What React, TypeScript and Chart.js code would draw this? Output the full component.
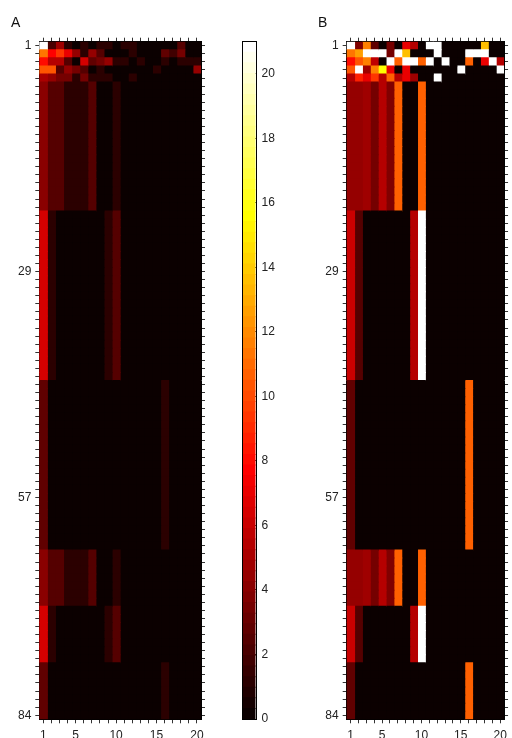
import React, { useEffect, useRef } from 'react';
import { Chart, registerables } from 'chart.js';

Chart.register(...registerables);
Chart.defaults.font.family = '"Liberation Sans", Arial, sans-serif';
Chart.defaults.font.size = 12;
Chart.defaults.color = '#222';

const VMAX = 21;
const rowLabels = Array.from({ length: 84 }, (_, i) => String(i + 1));
const colTicks = Array.from({ length: 20 }, (_, i) => i + 1);
const yLabelShown = ['1', '29', '57', '84'];
const xLabelShown = [1, 5, 10, 15, 20];
const cbTicks = [0, 2, 4, 6, 8, 10, 12, 14, 16, 18, 20];

// Panel A: first five rows, then repeated row blocks
const aTop = [
  [21, 2.0, 4.8, 1.3, 0, 1.3, 0, 1.3, 1.3, 0, 1.3, 1.3, 0, 0, 0, 0, 0, 2.6, 0, 0],
  [11.2, 7.7, 9.2, 7.2, 4.3, 1.3, 4.3, 2.3, 0, 0, 0, 1.3, 0, 0, 0, 2.8, 1.8, 3.3, 0, 0],
  [8.2, 5.3, 5.3, 2.3, 0, 6.3, 2.8, 3.3, 4.3, 1.3, 1.3, 0, 1.3, 0, 0, 1.3, 0, 1.3, 1.3, 1.3],
  [10.2, 10.2, 2.3, 4.3, 3.3, 2.3, 0, 1.3, 0, 0, 0, 0, 0, 0, 1.3, 0, 0, 0, 0, 4.3],
  [5.0, 4.3, 3.3, 3.3, 1.3, 3.3, 1.3, 1.3, 1.3, 0, 0, 1.3, 0, 0, 0, 0, 0, 0, 0, 0],
];
const aBlockP = [4.0, 2.3, 2.3, 1.3, 1.3, 1.3, 2.3, 0, 0, 1.3, 0, 0, 0, 0, 0, 0, 0, 0, 0, 0];
const aBlockQ = [6.3, 1.3, 0, 0, 0, 0, 0, 0, 1.3, 2.3, 0, 0, 0, 0, 0, 0, 0, 0, 0, 0];
const aBlockR = [2.8, 0, 0, 0, 0, 0, 0, 0, 0, 0, 0, 0, 0, 0, 0, 1.3, 0, 0, 0, 0];

// Panel B
const bTop = [
  [21, 3.8, 11.6, 2.8, 0, 3.3, 0, 7.2, 5.3, 0, 21, 21, 0, 0, 0, 0, 0, 13.6, 0, 0],
  [11.2, 12.6, 21, 21, 21, 3.3, 21, 13.6, 0, 0, 0, 21, 0, 0, 0, 21, 21, 21, 0, 0],
  [8.2, 10.2, 11.6, 5.8, 0, 21, 10.7, 21, 21, 10.7, 21, 0, 21, 0, 0, 10.7, 0, 7.2, 21, 5.3],
  [10.2, 21, 4.8, 11.6, 15.6, 7.2, 0, 7.2, 0, 0, 0, 0, 0, 0, 21, 0, 0, 0, 0, 21],
  [5.3, 8.7, 7.2, 9.2, 5.3, 10.7, 5.3, 7.2, 4.8, 0, 0, 21, 0, 0, 0, 0, 0, 0, 0, 0],
];
const bBlockP = [4.3, 4.3, 4.8, 3.3, 5.3, 3.8, 10.8, 0, 0, 10.8, 0, 0, 0, 0, 0, 0, 0, 0, 0, 0];
const bBlockQ = [6.2, 2.3, 0, 0, 0, 0, 0, 0, 5.3, 21, 0, 0, 0, 0, 0, 0, 0, 0, 0, 0];
const bBlockR = [2.8, 0, 0, 0, 0, 0, 0, 0, 0, 0, 0, 0, 0, 0, 0, 10.8, 0, 0, 0, 0];

// which block fills each row range (1-based, inclusive)
const blockLayout: [string, number, number][] = [
  ['P', 6, 21], ['Q', 22, 42], ['R', 43, 63], ['P', 64, 70], ['Q', 71, 77], ['R', 78, 84],
];

function buildMatrix(top: number[][], blocks: Record<string, number[]>) {
  const rows: number[][] = [...top];
  blockLayout.forEach(([k, from, to]) => {
    for (let r = from; r <= to; r++) rows.push(blocks[k]);
  });
  return rows;
}

const matA = buildMatrix(aTop, { P: aBlockP, Q: aBlockQ, R: aBlockR });
const matB = buildMatrix(bTop, { P: bBlockP, Q: bBlockQ, R: bBlockR });

const clamp = (x: number) => Math.max(0, Math.min(1, x));
function hotIndex(i: number) {
  const r = clamp((i + 1) / 24), g = clamp((i + 1 - 24) / 24), b = clamp((i + 1 - 48) / 16);
  return `rgb(${Math.round(r * 255)},${Math.round(g * 255)},${Math.round(b * 255)})`;
}
function hot(v: number) {
  const i = Math.max(0, Math.min(63, Math.floor((v / VMAX) * 64)));
  return hotIndex(i);
}

const panelLetter = (txt: string, x: number) => ({
  id: 'letter' + txt,
  afterDraw(chart: any) {
    const ctx = chart.ctx;
    ctx.save();
    ctx.font = '14px "Liberation Sans", Arial, sans-serif';
    ctx.fillStyle = '#111';
    ctx.textBaseline = 'alphabetic';
    ctx.textAlign = 'left';
    ctx.fillText(txt, x, 27);
    ctx.restore();
  },
});

const areaBackground = {
  id: 'areaBackground',
  beforeDatasetsDraw(chart: any) {
    const { left, top, right, bottom } = chart.chartArea;
    const ctx = chart.ctx;
    ctx.save();
    ctx.fillStyle = hot(0);
    ctx.fillRect(left, top, right - left, bottom - top);
    ctx.restore();
  },
};

function heatConfig(mat: number[][], W: number, left: number, right: number, letter: string, letterX: number): any {
  const TOP = 41.7, BOTTOM = 719.3, H = 738;
  const tickGrid = { drawOnChartArea: false, drawTicks: true, tickLength: 4, color: '#333', offset: false };
  const border = { display: true, color: '#000', width: 1 };
  const setXTicks = (s: any) => { s.ticks = colTicks.map((v) => ({ value: v })); };
  return {
    type: 'bar',
    data: {
      labels: rowLabels,
      datasets: colTicks.map((c) => ({
        data: rowLabels.map(() => [c - 0.5, c + 0.5]),
        backgroundColor: mat.map((row) => hot(row[c - 1])),
        borderWidth: 0,
        inflateAmount: 0.5,
        grouped: false,
        barPercentage: 1,
        categoryPercentage: 1,
      })),
    },
    options: {
      indexAxis: 'y',
      animation: false,
      responsive: false,
      events: [],
      layout: { padding: 0 },
      plugins: { legend: { display: false }, tooltip: { enabled: false }, title: { display: false } },
      scales: {
        x: {
          type: 'linear', position: 'bottom', min: 0.5, max: 20.5,
          afterBuildTicks: setXTicks,
          ticks: { autoSkip: false, maxRotation: 0, padding: 5, callback: (v: number) => (xLabelShown.includes(v) ? String(v) : '') },
          grid: tickGrid, border,
          afterFit: (s: any) => { s.height = H - BOTTOM; },
        },
        x2: {
          type: 'linear', position: 'top', min: 0.5, max: 20.5,
          afterBuildTicks: setXTicks,
          ticks: { display: false },
          grid: tickGrid, border,
          afterFit: (s: any) => { s.height = TOP; },
        },
        y: {
          type: 'category', position: 'left', offset: true,
          ticks: { autoSkip: false, padding: 4, callback: (_v: any, i: number) => (yLabelShown.includes(rowLabels[i]) ? rowLabels[i] : '') },
          grid: tickGrid, border,
          afterFit: (s: any) => { s.width = left; },
        },
        y2: {
          type: 'category', position: 'right', offset: true, labels: rowLabels,
          ticks: { display: false },
          grid: tickGrid, border,
          afterFit: (s: any) => { s.width = W - right; },
        },
      },
    },
    plugins: [areaBackground, panelLetter(letter, letterX)],
  };
}

const cbLevels = Array.from({ length: 64 }, (_, i) => i);

function colorbarConfig(): any {
  return {
    type: 'bar',
    data: {
      labels: ['c'],
      datasets: cbLevels.map((i) => ({
        data: [[(i * VMAX) / 64, ((i + 1) * VMAX) / 64]],
        backgroundColor: hotIndex(i),
        borderWidth: 0,
        inflateAmount: 0.5,
        grouped: false,
        barPercentage: 1,
        categoryPercentage: 1,
      })),
    },
    options: {
      animation: false,
      responsive: false,
      events: [],
      layout: { padding: { left: 18, top: 41.7, bottom: 19, right: 0 } },
      plugins: { legend: { display: false }, tooltip: { enabled: false } },
      scales: {
        x: { display: false, offset: true },
        y: {
          position: 'right', min: 0, max: VMAX, z: 1,
          afterBuildTicks: (s: any) => { s.ticks = cbTicks.map((v) => ({ value: v })); },
          ticks: { padding: 6, autoSkip: false },
          grid: { drawOnChartArea: true, drawTicks: false, color: '#333', lineWidth: 1 },
          border: { display: false },
          afterFit: (s: any) => { s.width = 44.5; },
        },
      },
    },
    plugins: [{
      id: 'frame',
      afterDraw(chart: any) {
        const { left, top, right, bottom } = chart.chartArea;
        const ctx = chart.ctx;
        ctx.save();
        ctx.strokeStyle = '#000';
        ctx.lineWidth = 1;
        ctx.strokeRect(Math.round(left) - 0.5, Math.round(top) - 0.5, Math.round(right - left) + 1, Math.round(bottom - top) + 1);
        ctx.restore();
      },
    }],
  };
}

function ChartCanvas({ config, left, width }: { config: () => any; left: number; width: number }) {
  const ref = useRef<HTMLCanvasElement | null>(null);
  useEffect(() => {
    if (!ref.current) return;
    const chart = new Chart(ref.current, config());
    return () => chart.destroy();
  }, []);
  return (
    <canvas
      ref={ref}
      width={width}
      height={738}
      style={{ position: 'absolute', left, top: 0, width, height: 738 }}
    />
  );
}

export default function App() {
  return (
    <div style={{ position: 'fixed', left: 0, top: 0, width: 512, height: 738, background: '#fff', overflow: 'hidden' }}>
      <ChartCanvas config={() => heatConfig(matA, 225, 39.3, 201, 'A', 11)} left={0} width={225} />
      <ChartCanvas config={colorbarConfig} left={225} width={75} />
      <ChartCanvas config={() => heatConfig(matB, 212, 46.7, 208.7, 'B', 18)} left={300} width={212} />
    </div>
  );
}
